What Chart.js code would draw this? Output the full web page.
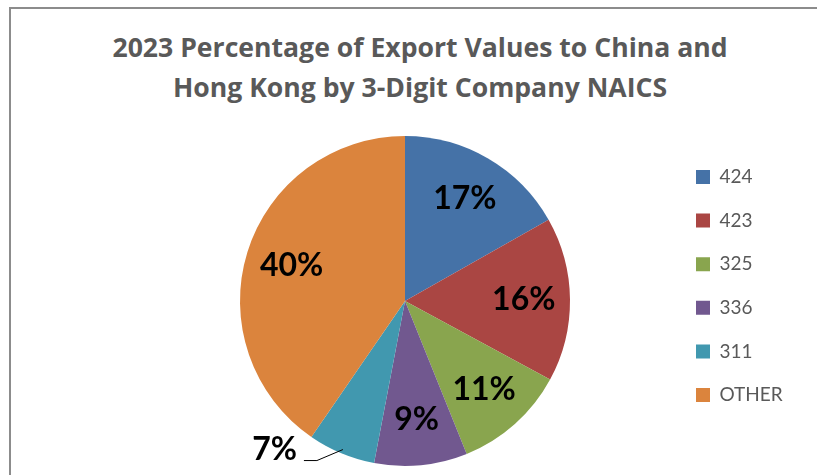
<!DOCTYPE html>
<html><head><meta charset="utf-8">
<script src="https://cdn.jsdelivr.net/npm/chart.js@4.4.1/dist/chart.umd.min.js"></script>
<style>
html,body{margin:0;padding:0;background:#fff;}
#wrap{position:relative;width:817px;height:475px;overflow:hidden;background:#fff;}
#frame{position:absolute;left:9px;top:7px;width:900px;height:600px;border-left:2px solid #8c8c8c;border-top:2px solid #8c8c8c;}
#title{position:absolute;left:0;top:27.4px;width:840px;text-align:center;font-family:'Open Sans',sans-serif;font-weight:bold;font-size:26.6px;color:#595959;line-height:40px;white-space:nowrap;}
canvas{position:absolute;left:0;top:0;}
</style></head>
<body>
<div id="wrap">
  <div id="frame"></div>
  <div id="title"></div>
  <canvas id="c" width="817" height="475"></canvas>
</div>
<script>
const titleLines = ['2023 Percentage of Export Values to China and', 'Hong Kong by 3-Digit Company NAICS'];
const categories = ['424', '423', '325', '336', '311', 'OTHER'];
const shares = [16.8, 16.1, 11.0, 9.1, 6.6, 40.4];
const colors = ['#4572A7', '#AA4643', '#89A54E', '#71588F', '#4198AF', '#DB843D'];

const t = document.getElementById('title');
titleLines.forEach((line, i) => {
  if (i) t.appendChild(document.createElement('br'));
  t.appendChild(document.createTextNode(line));
});

const legendFont = { family: 'Lato', size: 19 };
const legendPad = 24.6, boxW = 14;
const canvas = document.getElementById('c');
const mctx = canvas.getContext('2d');
mctx.font = legendFont.size + 'px ' + legendFont.family;
const maxText = Math.max(...categories.map(c => mctx.measureText(c).width));
const legendWidth = legendPad + boxW + legendFont.size / 2 + maxText + 10;
const chartRight = 671.4;
const padRight = 817 - chartRight - legendWidth;

const sliceLabels = {
  id: 'sliceLabels',
  afterDatasetsDraw(chart) {
    const ctx = chart.ctx;
    const meta = chart.getDatasetMeta(0);
    ctx.save();
    ctx.font = 'bold 32px Lato';
    ctx.fillStyle = '#000';
    ctx.strokeStyle = '#000';
    ctx.lineWidth = 1;
    ctx.textBaseline = 'middle';
    meta.data.forEach((arc, i) => {
      const p = arc.getProps(['x', 'y', 'startAngle', 'endAngle', 'outerRadius'], true);
      const mid = (p.startAngle + p.endAngle) / 2;
      const txt = Math.round(shares[i]) + '%';
      if (shares[i] < 8) {
        const x0 = p.x + Math.cos(mid) * (p.outerRadius - 4);
        const y0 = p.y + Math.sin(mid) * (p.outerRadius - 4);
        const x1 = x0 - 26, y1 = y0 + 11;
        const x2 = x1 - 13;
        ctx.beginPath();
        ctx.moveTo(x0, y0); ctx.lineTo(x1, y1); ctx.lineTo(x2, y1);
        ctx.stroke();
        ctx.textAlign = 'right';
        ctx.fillText(txt, x2 - 7, y1 - 11);
      } else {
        ctx.textAlign = 'center';
        const r = p.outerRadius * 0.72;
        ctx.fillText(txt, p.x + Math.cos(mid) * r, p.y + Math.sin(mid) * r);
      }
    });
    ctx.restore();
  }
};

new Chart(canvas, {
  type: 'pie',
  data: {
    labels: categories,
    datasets: [{ data: shares, backgroundColor: colors, borderWidth: 0, radius: 165 }]
  },
  options: {
    responsive: false,
    animation: false,
    layout: { padding: { left: 138.6, right: padRight, top: 142.9, bottom: 15.9 } },
    plugins: {
      legend: {
        position: 'right',
        align: 'start',
        labels: {
          boxWidth: boxW, boxHeight: 14, padding: legendPad,
          color: '#595959',
          font: legendFont
        }
      },
      tooltip: { enabled: false }
    }
  },
  plugins: [sliceLabels]
});
</script>
</body></html>
